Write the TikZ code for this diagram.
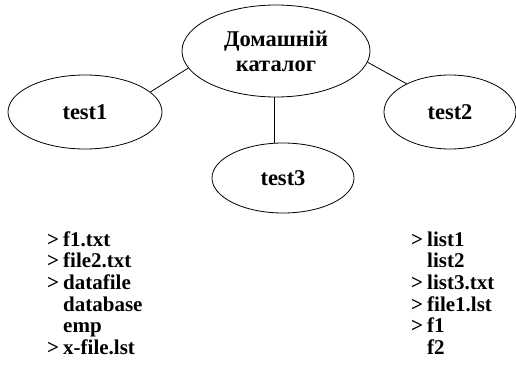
\documentclass[tikz,border=0pt]{standalone}
\usepackage{fontspec}
\setmainfont{Liberation Serif}
\usetikzlibrary{shapes.geometric}
\begin{document}
\begin{tikzpicture}[x=1pt,y=-1pt,
  bubble/.style={draw, ellipse, inner sep=0pt, line width=0.8pt, align=center,
    font=\fontsize{22.5}{25}\selectfont\bfseries},
  item/.style={anchor=base west, inner sep=0pt, font=\fontsize{21}{23}\selectfont\bfseries},
  link/.style={line width=0.8pt}]
\useasboundingbox (0,0) rectangle (516,369);
\node[bubble, minimum width=188pt, minimum height=92pt] (home) at (276,51) {Домашній\\каталог};
\node[bubble, minimum width=154pt, minimum height=74pt] (t1) at (85,112) {test1};
\node[bubble, minimum width=132pt, minimum height=74pt] (t2) at (450,112) {test2};
\node[bubble, minimum width=142pt, minimum height=70pt] (t3) at (283,178) {test3};
\draw[link] (home.191.6) -- (t1.17.6);
\draw[link] (home.353) -- (t2.147.2);
\draw[link] (t3.103 |- home.south) -- (t3.103);
% left list
\node[item] (lm1) at (47,246) {>};
\node[item] (l1) at (63,246) {f1.txt};
\node[item] (lm2) at (47,267.7) {>};
\node[item] (l2) at (63,267.7) {file2.txt};
\node[item] (lm3) at (47,289.4) {>};
\node[item] (l3) at (63,289.4) {datafile};
\node[item] (l4) at (63,311.1) {database};
\node[item] (l5) at (63,332.8) {emp};
\node[item] (lm6) at (47,354.5) {>};
\node[item] (l6) at (63,354.5) {x-file.lst};
% right list
\node[item] (rm1) at (411,246) {>};
\node[item] (r1) at (427,246) {list1};
\node[item] (r2) at (427,267.7) {list2};
\node[item] (rm3) at (411,289.4) {>};
\node[item] (r3) at (427,289.4) {list3.txt};
\node[item] (rm4) at (411,311.1) {>};
\node[item] (r4) at (427,311.1) {file1.lst};
\node[item] (rm5) at (411,332.8) {>};
\node[item] (r5) at (427,332.8) {f1};
\node[item] (r6) at (427,354.5) {f2};
\end{tikzpicture}
\end{document}
